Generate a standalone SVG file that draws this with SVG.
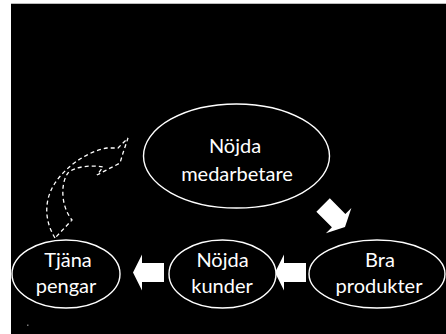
<svg xmlns="http://www.w3.org/2000/svg" width="446" height="334" viewBox="0 0 446 334">
<style>
.node{fill:#000;stroke:#fff;stroke-width:1.4}
.lbl{font-family:Lato,"Liberation Sans",sans-serif;font-size:20px;fill:#fff;text-anchor:middle}
.blk{fill:#fff}
.dash{fill:none;stroke:#fff;stroke-width:1.3;stroke-dasharray:4 3}
</style>
<defs>
<path id="arr" d="M0,0 L9,-18 L9,-9.5 L31,-9.5 L31,9.5 L9,9.5 L9,18 Z"/>
</defs>
<rect x="0" y="0" width="446" height="334" fill="#fff"/>
<rect x="11" y="3" width="435" height="331" fill="#000"/>
<line x1="11" y1="3.5" x2="446" y2="3.5" stroke="#bbb" stroke-width="1"/>
<rect x="27" y="324.5" width="1.5" height="1.5" fill="#777"/>
<g id="connectors">
<use href="#arr" class="blk" transform="translate(133,272.5)"/>
<use href="#arr" class="blk" transform="translate(275,272.5)"/>
<use href="#arr" class="blk" transform="translate(345,227) rotate(-135)"/>
<path class="dash" d="M55,238 C44,220 44,200 55,183 C65,168 85,152 107,148 L118,148 L128,138 L123,153 L120,163 L97,175 L103,167 C92,165 75,166 68,173 C61,182 60,205 72,220 Z"/>
</g>
<g id="n1">
<ellipse class="node" cx="236.5" cy="156" rx="93" ry="52"/>
<text class="lbl" x="235" y="153">Nöjda</text>
<text class="lbl" x="237" y="181">medarbetare</text>
</g>
<g id="n2">
<ellipse class="node" cx="377" cy="274" rx="68" ry="34"/>
<text class="lbl" x="380" y="267">Bra</text>
<text class="lbl" x="379" y="293">produkter</text>
</g>
<g id="n3">
<ellipse class="node" cx="222.5" cy="274" rx="53.5" ry="34"/>
<text class="lbl" x="222.5" y="267">Nöjda</text>
<text class="lbl" x="222" y="293">kunder</text>
</g>
<g id="n4">
<ellipse class="node" cx="66" cy="274" rx="54" ry="34"/>
<text class="lbl" x="68" y="267">Tjäna</text>
<text class="lbl" x="66" y="293">pengar</text>
</g>
</svg>
